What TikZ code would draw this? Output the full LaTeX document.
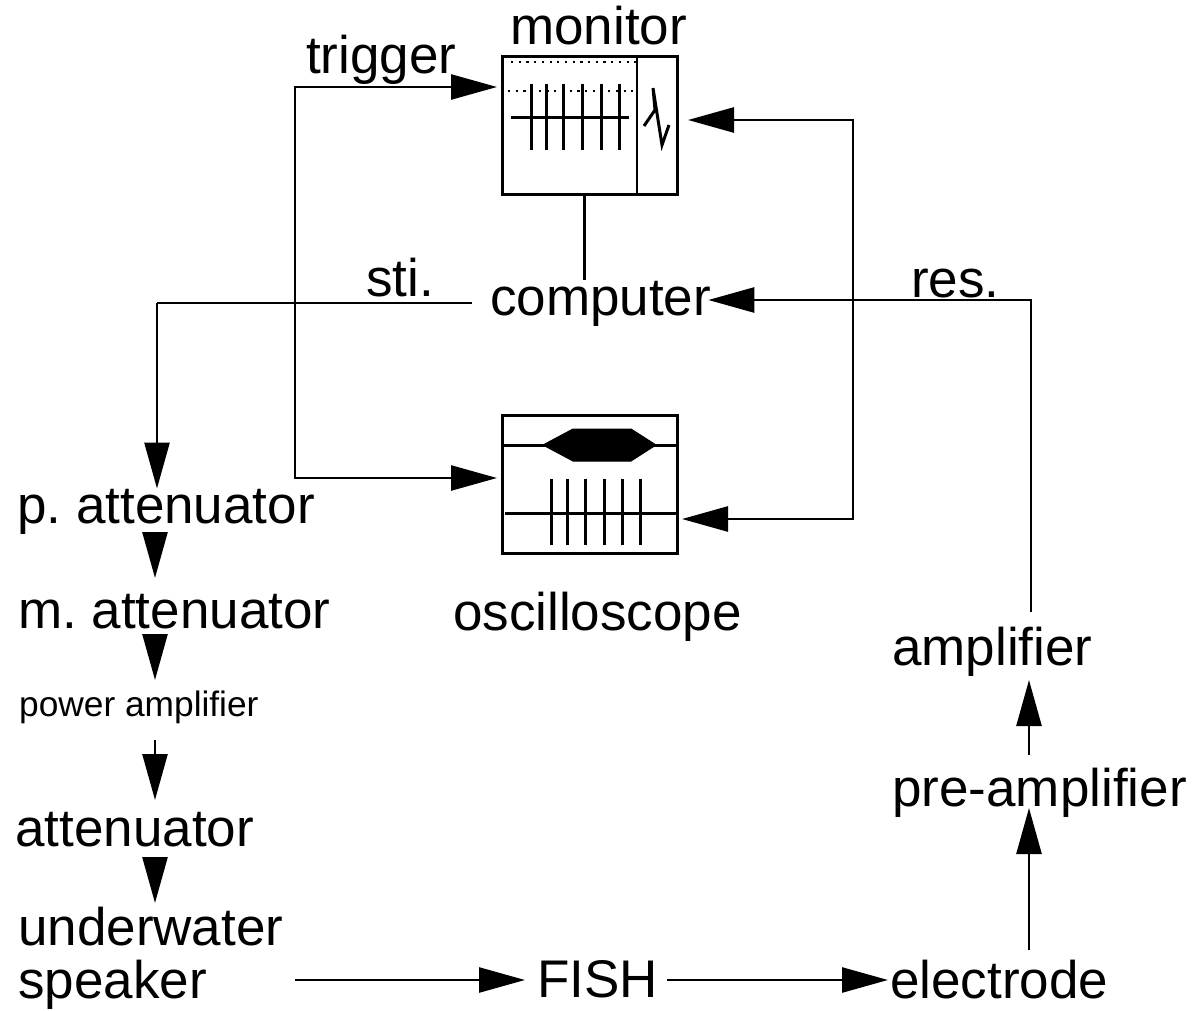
\documentclass[tikz,border=0pt]{standalone}
\usepackage{fontspec}
\setmainfont{Liberation Sans}
\usetikzlibrary{arrows.meta,calc}
\frenchspacing
\tikzset{
  lbl/.style={anchor=base west,inner sep=0pt,font=\fontsize{53}{56}\selectfont},
  sml/.style={anchor=base west,inner sep=0pt,font=\fontsize{35.3}{38}\selectfont},
  panel/.style={draw,line width=3pt,inner sep=0pt,outer sep=0pt,anchor=north west},
  wire/.style={line width=2.6pt},
  arr/.style={line width=2.6pt,-{Stealth[length=46pt,width=25pt,inset=0pt]}},
  trace/.style={line width=3pt},
  dots/.style={line width=2.2pt,dash pattern=on 2.2pt off 5.5pt}
}
\begin{document}
\begin{tikzpicture}[x=1pt,y=-1pt]
\useasboundingbox (0,0) rectangle (1192,1011);
% panels
\node[panel,minimum width=175pt,minimum height=138pt] (mon) at (502,57) {};
\node[panel,minimum width=175pt,minimum height=138pt] (osc) at (502,415) {};
% labels
\node[lbl] (tmon) at (510,45) {monitor};
\node[lbl] (ttrig) at (306,74) {trigger};
\node[lbl] (comp) at (490,316) {computer};
\node[lbl] (tsti) at (366,296) {sti.};
\node[lbl] (tres) at (911,298) {res.};
\node[lbl] (tosc) at (453,630) {oscilloscope};
\node[lbl] (patt) at (17,523) {p. attenuator};
\node[lbl] (matt) at (18,628) {m. attenuator};
\node[sml] (pamp) at (19,716) {power amplifier};
\node[lbl] (att) at (15,846) {attenuator};
\node[lbl] (uw) at (18,945) {underwater};
\node[lbl] (spk) at (18,998) {speaker};
\node[lbl] (fish) at (537,997) {FISH};
\node[lbl] (elec) at (890,998) {electrode};
\node[lbl] (pre) at (892,806) {pre-amplifier};
\node[lbl] (amp) at (892,665) {amplifier};
% routing coordinates
\coordinate (trigtop) at (295,87);
\coordinate (trigbot) at (295,478);
\coordinate (stic) at (157,303);
\coordinate (busT) at (853,120);
\coordinate (busB) at (853,519);
\coordinate (resc) at (1031,300);
% connectors
\draw[wire] (mon.south -| comp.north) ++(-16pt,0) -- ++(0,-85pt);
\draw[arr] (trigbot) -- (trigtop) -- ([xshift=-5pt]mon.west |- trigtop);
\draw[arr] (trigtop) -- (trigbot) -- ([xshift=-5pt]osc.west |- trigbot);
\draw[wire] (comp.west |- stic) ++(-18pt,0) -- (stic);
\draw[arr] (stic) -- (stic |- patt.north);
\draw[arr] (busB) -- (busT) -- ([xshift=11pt]mon.east |- busT);
\draw[arr] (busT) -- (busB) -- ([xshift=5pt]osc.east |- busB);
\draw[arr] (resc |- amp.north) ++(0,14pt) -- (resc) -- ([xshift=-3pt]comp.east |- resc);
% chain
\draw[arr] (155,533) -- (155,578);
\draw[arr] (155,634) -- (155,680);
\draw[arr] (155,740) -- (155,800);
\draw[arr] (155,857) -- (155,903);
\draw[arr] (295,980) -- (525,980);
\draw[arr] (667,980) -- (888,980);
\draw[arr] (1029,950) -- (1029,808);
\draw[arr] (1029,755) -- (1029,680);
% monitor contents
\draw[wire] (637,57) -- (637,195);
\draw[dots] (511,62) -- (637,62);
\draw[dots] (508,91) -- (634,91);
\draw[trace] (511,118) -- (629,118);
\foreach \x in {531,546,563,582,601,619} \draw[trace] (\x,84) -- (\x,150);
\draw[line width=3pt,line join=miter] (644,126) -- (655,110) -- (653,88) -- (662,145) -- (669,125);
% oscilloscope contents
\draw[trace] (504,445) -- (676,445);
\filldraw[line width=1pt] (543,445) -- (573,429) -- (631,429) -- (656,445) -- (631,461) -- (573,461) -- cycle;
\draw[trace] (505,513) -- (676,513);
\foreach \x in {551,567,585,604,622,640} \draw[trace] (\x,479) -- (\x,545);
\end{tikzpicture}
\end{document}
